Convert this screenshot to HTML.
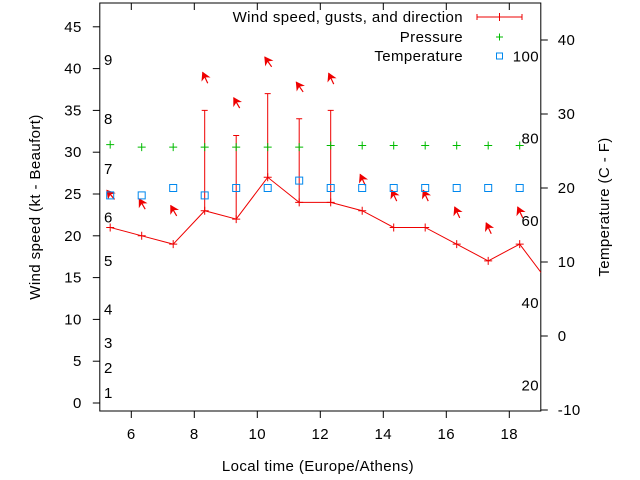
<!DOCTYPE html>
<html><head><meta charset="utf-8"><style>
body{margin:0;background:#fff}
svg{display:block;font-family:"Liberation Sans",sans-serif}
text{letter-spacing:0.4px}
</style></head><body>
<svg id="chart" width="640" height="480" viewBox="0 0 640 480" xmlns="http://www.w3.org/2000/svg"></svg>
<script>
const hours=[5.33,6.33,7.33,8.33,9.33,10.33,11.33,12.33,13.33,14.33,15.33,16.33,17.33,18.33,19.33];
const windSpeed=[21,20,19,23,22,27,24,24,23,21,21,19,17,19,14];
const gustHours=[8.33,9.33,10.33,11.33,12.33];
const gustSpeed=[35,32,37,34,35];
const gustBase=[23,22,27,24,24];
const pressure=[30.9,30.6,30.6,30.6,30.6,30.6,30.6,30.8,30.8,30.8,30.8,30.8,30.8,30.8];
const temperature=[19,19,20,19,20,20,21,20,20,20,20,20,20,20];
const arrowLevel=[24.9,23.8,23,38.9,35.9,40.8,37.8,38.8,26.7,24.8,24.8,22.8,20.9,22.8];
const arrowDir=[320,330,330,335,330,325,325,335,335,335,335,335,335,335];
const xTicks=[6,8,10,12,14,16,18];
const yTicks=[0,5,10,15,20,25,30,35,40,45];
const y2Ticks=[-10,0,10,20,30,40];
const beaufort=[1,2,3,4,5,6,7,8,9];
const beaufortKt=[1.2,4.2,7.2,11.2,17,22.2,28,34,41];
const fahrenheit=[20,40,60,80,100];

const L=99.8,R=540.8,T=3,B=411;
const X=v=>L+(v-5)*(R-L)/14;
const Y=v=>403-v*8.36;
const Y2=v=>410-(v+10)*7.4;
const svg=document.getElementById('chart');
const NS='http://www.w3.org/2000/svg';
function mk(tag,attrs,parent){const e=document.createElementNS(NS,tag);for(const k in attrs)e.setAttribute(k,attrs[k]);(parent||svg).appendChild(e);return e;}

const clip=mk('clipPath',{id:'pc'});mk('rect',{x:L,y:T,width:R-L,height:B-T},clip);

let f=mk('rect',{x:L,y:T,width:R-L,height:B-T,fill:'none',stroke:'#000','stroke-width':1});



const FS=15;
xTicks.forEach(v=>{
 let t=mk('line',{x1:X(v),x2:X(v),y1:B,y2:B+7,stroke:'#000'});
 
 
 mk('line',{x1:X(v),x2:X(v),y1:T,y2:T+7,stroke:'#000'});
 let l=mk('text',{x:X(v),y:B+28,'text-anchor':'middle','font-size':FS},);l.textContent=v;
 
 
});
yTicks.forEach(v=>{
 let t=mk('line',{x1:L-7,x2:L,y1:Y(v),y2:Y(v),stroke:'#000'});
 
 
 let l=mk('text',{x:L-18,y:Y(v)+5,'text-anchor':'end','font-size':FS});l.textContent=v;
 
 
});
y2Ticks.forEach(v=>{
 let t=mk('line',{x1:R,x2:R+7,y1:Y2(v),y2:Y2(v),stroke:'#000'});
 
 
 let l=mk('text',{x:R+17,y:Y2(v)+5,'font-size':FS});l.textContent=v;
 
 
});
beaufort.forEach((b,i)=>{
 let l=mk('text',{x:104,y:Y(beaufortKt[i])+5,'font-size':FS});l.textContent=b;
 
 
});
fahrenheit.forEach(v=>{
 let l=mk('text',{x:539,y:Y2((v-32)*5/9)+5,'text-anchor':'end','font-size':FS});l.textContent=v;
 
 
});

let t1=mk('text',{x:0,y:0,'text-anchor':'middle','font-size':FS,transform:'translate(40,207) rotate(-90)'});t1.textContent='Wind speed (kt - Beaufort)';


let t2=mk('text',{x:0,y:0,'text-anchor':'middle','font-size':FS,transform:'translate(609,207) rotate(-90)'});t2.textContent='Temperature (C - F)';


let t3=mk('text',{x:318,y:471,'text-anchor':'middle','font-size':FS});t3.textContent='Local time (Europe/Athens)';



const g=mk('g',{'clip-path':'url(#pc)'});



let pl=mk('polyline',{points:hours.map((h,i)=>X(h)+','+Y(windSpeed[i])).join(' '),fill:'none',stroke:'#e00','stroke-width':1},g);


hours.forEach((h,i)=>{
 let p=mk('path',{d:`M${X(h)-4},${Y(windSpeed[i])}h8M${X(h)},${Y(windSpeed[i])-4}v8`,stroke:'#e00'},g);
 
 
});
gustHours.forEach((h,i)=>{
 let p=mk('path',{d:`M${X(h)},${Y(gustBase[i])}V${Y(gustSpeed[i])}M${X(h)-3},${Y(gustSpeed[i])}h6`,stroke:'#e00'},g);
 
 
});
arrowLevel.forEach((lv,i)=>{
 const cx=X(hours[i])+0.5,cy=Y(lv),a=arrowDir[i]*Math.PI/180,len=12;
 const dx=Math.sin(a),dy=-Math.cos(a);
 const hx=cx+dx*len/2,hy=cy+dy*len/2,tx=cx-dx*len/2,ty=cy-dy*len/2;
 const px=-dy,py=dx;
 let ar=mk('g',{},g);
 
 
 mk('line',{x1:tx,y1:ty,x2:hx,y2:hy,stroke:'#e00','stroke-width':1.2},ar);
 mk('polygon',{points:`${hx},${hy} ${hx-dx*7+px*4},${hy-dy*7+py*4} ${hx-dx*5},${hy-dy*5} ${hx-dx*7-px*4},${hy-dy*7-py*4}`,fill:'#e00',stroke:'#e00','stroke-width':0.8},ar);
});
pressure.forEach((v,i)=>{
 let p=mk('path',{d:`M${X(hours[i])-4},${Y(v)}h8M${X(hours[i])},${Y(v)-4}v8`,stroke:'#0b0'},g);
 
 
});
temperature.forEach((v,i)=>{
 let p=mk('rect',{x:X(hours[i])-3.5,y:Y2(v)-3.5,width:7,height:7,fill:'none',stroke:'#08e'},g);
 
 
});

const lg=mk('g',{});


[['Wind speed, gusts, and direction',17],['Pressure',37],['Temperature',56]].forEach(([s,y])=>{
 let t=mk('text',{x:463,y:y+5,'text-anchor':'end','font-size':FS},lg);t.textContent=s;
 
 
});
mk('path',{d:'M477,17h45M477,14v6M522,14v6M499.5,13v8',stroke:'#e00'},lg);
mk('path',{d:'M496,37h7M499.5,33.5v7',stroke:'#0b0'},lg);
mk('rect',{x:496.5,y:53,width:6,height:6,fill:'none',stroke:'#08e'},lg);
</script>
</body></html>
